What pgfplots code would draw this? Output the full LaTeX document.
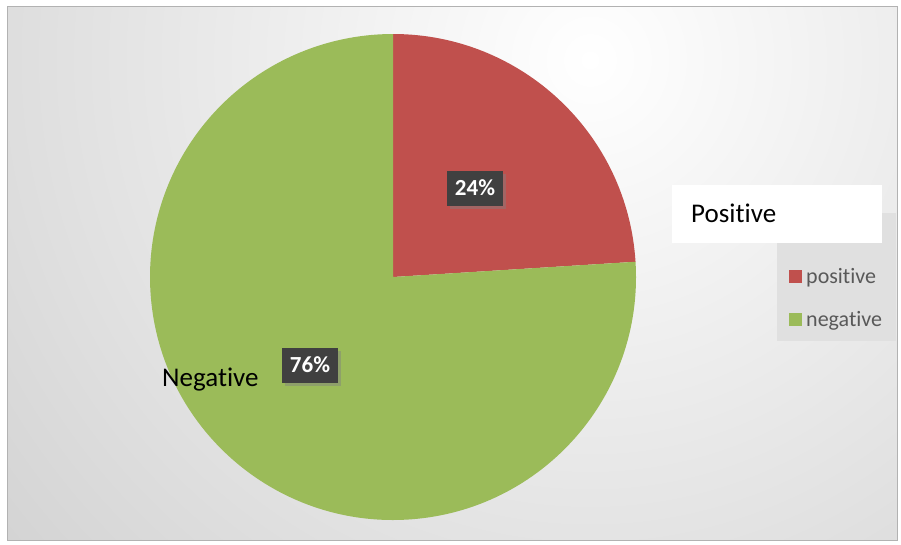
\documentclass[border=0pt]{standalone}
\usepackage{pgfplots}
\usepackage{pgfplotstable}
\pgfplotsset{compat=1.18}
\usepackage{fontspec}
\setmainfont[Ligatures=NoCommon]{Carlito}
\usetikzlibrary{shadows}
\definecolor{cpos}{RGB}{192,80,77}
\definecolor{cneg}{RGB}{155,187,89}
\definecolor{lbl}{RGB}{64,64,64}
\definecolor{legtxt}{RGB}{89,89,89}
\pgfplotstableread{
label value
positive 24
negative 76
}\piedata
\begin{document}
\begin{tikzpicture}
\pgfplotstablegetelem{0}{value}\of\piedata \pgfmathtruncatemacro{\vpos}{\pgfplotsretval}
\pgfplotstablegetelem{1}{value}\of\piedata \pgfmathtruncatemacro{\vneg}{\pgfplotsretval}
\pgfmathsetmacro{\tot}{\vpos+\vneg}
\pgfmathsetmacro{\apos}{90-360*\vpos/\tot}
\begin{axis}[width=901pt,height=544pt,scale only axis,xmin=0,xmax=901,ymin=0,ymax=544,y dir=reverse,hide axis,clip=false]
\fill[white] (axis cs:0,0) rectangle (axis cs:901,544);
\begin{scope}
\clip (axis cs:7,6) rectangle (axis cs:897,540);
\shade[overlay,inner color=white,outer color=black!28] (axis cs:590,60) circle (1250pt);
\end{scope}
\draw[black!30] (axis cs:7,6) rectangle (axis cs:897,540);
% pie slices from the table values
\fill[cpos] (axis cs:393,277) -- ++(90:243pt) arc[start angle=90,end angle=\apos,radius=243pt] -- cycle;
\fill[cneg] (axis cs:393,277) -- ++(\apos:243pt) arc[start angle=\apos,end angle=-270,radius=243pt] -- cycle;
% data labels
\node[fill=lbl,text=white,font=\bfseries\fontsize{23}{27}\selectfont,minimum width=56pt,minimum height=35pt,inner sep=0pt,drop shadow={shadow xshift=3pt,shadow yshift=-3pt,opacity=0.45}] at (axis cs:475,188) {\vpos\%};
\node[fill=lbl,text=white,font=\bfseries\fontsize{23}{27}\selectfont,minimum width=56pt,minimum height=35pt,inner sep=0pt,drop shadow={shadow xshift=3pt,shadow yshift=-3pt,opacity=0.45}] at (axis cs:310,365) {\vneg\%};
\node[anchor=base west,inner sep=0pt,font=\fontsize{27}{32}\selectfont] at (axis cs:162,386) {Negative};
% legend
\fill[black!12] (axis cs:777,213) rectangle (axis cs:896,341);
\fill[white] (axis cs:672,185) rectangle (axis cs:882,243);
\node[anchor=base west,inner sep=0pt,font=\fontsize{27}{32}\selectfont] at (axis cs:691,222) {Positive};
\fill[cpos] (axis cs:789,270) rectangle (axis cs:802,283);
\fill[cneg] (axis cs:789,313) rectangle (axis cs:802,326);
\node[anchor=base west,inner sep=0pt,text=legtxt,font=\fontsize{22}{26}\selectfont] at (axis cs:806,283) {positive};
\node[anchor=base west,inner sep=0pt,text=legtxt,font=\fontsize{22}{26}\selectfont] at (axis cs:806,326) {negative};
\end{axis}
\end{tikzpicture}
\end{document}
